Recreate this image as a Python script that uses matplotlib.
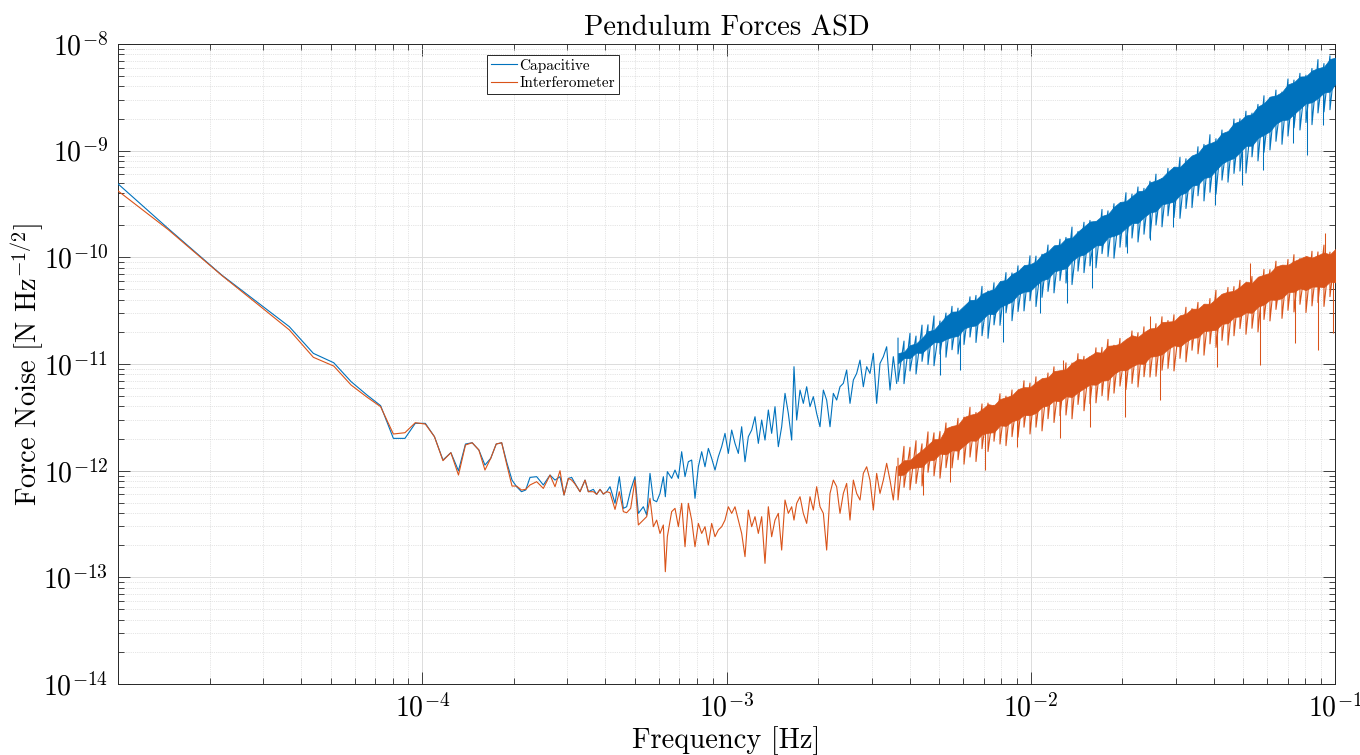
import numpy as np
import matplotlib
matplotlib.use("Agg")
import matplotlib.pyplot as plt
from matplotlib.ticker import FixedLocator, FixedFormatter, LogLocator, NullFormatter

plt.rcParams["font.family"] = "serif"
plt.rcParams["font.serif"] = ["cmr10"]
plt.rcParams["mathtext.fontset"] = "cm"
plt.rcParams["axes.unicode_minus"] = False
plt.rcParams["axes.formatter.use_mathtext"] = True

# All values are log10: frequency in Hz, force ASD in N/sqrt(Hz)

# first FFT bins (df ~ 7.3 uHz)
bin_logf = [-5.137, -4.836, -4.659, -4.534, -4.437, -4.358, -4.291, -4.234, -4.182, -4.137,
            -4.095, -4.057, -4.023, -3.990, -3.960, -3.932, -3.906, -3.881, -3.858, -3.836,
            -3.814, -3.794, -3.775, -3.757, -3.739, -3.722, -3.705, -3.690, -3.674, -3.660]
cap_bins = [-8.963, -9.728, -10.166, -10.438, -10.650, -10.900, -10.988, -11.165, -11.290, -11.390,
            -11.697, -11.697, -11.556, -11.556, -11.681, -11.900, -11.831, -12.000, -11.750, -11.738,
            -11.806, -11.947, -11.884, -11.750, -11.738, -11.925, -12.088, -12.150, -12.197, -12.181]
ifo_bins = [-9.076, -9.738, -10.170, -10.456, -10.680, -10.937, -11.019, -11.197, -11.310, -11.400,
            -11.656, -11.644, -11.550, -11.563, -11.681, -11.906, -11.831, -12.041, -11.759, -11.738,
            -11.806, -11.994, -11.884, -11.750, -11.738, -11.947, -12.144, -12.144, -12.181, -12.175]

# mid band, where the two sensors split apart
mid_logf = [-3.6459, -3.6240, -3.6021, -3.5801, -3.5637, -3.5473, -3.5341, -3.5199, -3.5089, -3.4980,
            -3.4815, -3.4651, -3.4542, -3.4377, -3.4268, -3.4158, -3.4048, -3.3939, -3.3829, -3.3665,
            -3.3523, -3.3391, -3.3282, -3.3150, -3.3008, -3.2898, -3.2734, -3.2624, -3.2515, -3.2405,
            -3.2296, -3.2186, -3.2076, -3.2011, -3.1945, -3.1803, -3.1693, -3.1583, -3.1474, -3.1364,
            -3.1255, -3.1145, -3.1036, -3.0926, -3.0816, -3.0707, -3.0597, -3.0488, -3.0378, -3.0269,
            -3.0159, -3.0050, -2.9940, -2.9830, -2.9721, -2.9611, -2.9502, -2.9392, -2.9283, -2.9173,
            -2.9063, -2.8954, -2.8844, -2.8735, -2.8625, -2.8516, -2.8406, -2.8297, -2.8187, -2.8077,
            -2.7968, -2.7858, -2.7782, -2.7694, -2.7584, -2.7475, -2.7365, -2.7256, -2.7146, -2.7037,
            -2.6927, -2.6817, -2.6708, -2.6598, -2.6489, -2.6379, -2.6270, -2.6160, -2.6051, -2.5941,
            -2.5831, -2.5722, -2.5612, -2.5503, -2.5393, -2.5284, -2.5174, -2.5065, -2.4955, -2.4845,
            -2.4736, -2.4626, -2.4517, -2.4407]
cap_mid = [-12.063, -12.056, -12.134, -12.041, -12.088, -12.056, -12.228, -12.072, -12.063, -12.119,
           -12.197, -12.088, -12.197, -12.175, -12.222, -12.175, -12.219, -12.197, -12.150, -12.306,
           -12.056, -12.353, -12.338, -12.181, -12.056, -12.400, -12.338, -12.416, -12.025, -12.275,
           -12.291, -12.213, -12.056, -12.244, -12.009, -12.072, -11.994, -12.072, -11.822, -12.056,
           -11.916, -11.900, -12.259, -11.963, -11.822, -11.963, -11.791, -11.884, -11.994, -11.869,
           -11.775, -11.650, -11.838, -11.619, -11.744, -11.838, -11.588, -11.916, -11.681, -11.619,
           -11.494, -11.744, -11.525, -11.713, -11.431, -11.650, -11.400, -11.775, -11.588, -11.275,
           -11.463, -11.713, -11.025, -11.525, -11.244, -11.369, -11.213, -11.400, -11.306, -11.463,
           -11.588, -11.244, -11.338, -11.588, -11.275, -11.338, -11.213, -11.181, -11.056, -11.369,
           -11.150, -11.088, -10.963, -11.213, -11.025, -11.088, -10.900, -11.369, -10.994, -10.931,
           -10.838, -11.244, -10.931, -11.181]
ifo_mid = [-12.134, -12.103, -12.166, -12.041, -12.150, -12.000, -12.228, -12.072, -12.088, -12.125,
           -12.197, -12.088, -12.197, -12.197, -12.222, -12.175, -12.219, -12.197, -12.206, -12.363,
           -12.197, -12.384, -12.394, -12.353, -12.088, -12.509, -12.463, -12.431, -12.259, -12.525,
           -12.463, -12.588, -12.509, -12.947, -12.619, -12.384, -12.353, -12.525, -12.306, -12.713,
           -12.306, -12.463, -12.713, -12.494, -12.588, -12.525, -12.697, -12.494, -12.619, -12.556,
           -12.525, -12.463, -12.338, -12.400, -12.338, -12.463, -12.588, -12.806, -12.369, -12.525,
           -12.431, -12.588, -12.431, -12.869, -12.338, -12.619, -12.463, -12.400, -12.744, -12.275,
           -12.400, -12.338, -12.463, -12.306, -12.244, -12.400, -12.494, -12.244, -12.369, -12.150,
           -12.338, -12.400, -12.744, -12.213, -12.088, -12.150, -12.400, -12.213, -12.119, -12.463,
           -12.088, -12.213, -12.275, -12.025, -11.963, -12.088, -12.369, -12.025, -12.213, -12.088,
           -11.931, -12.088, -12.275, -11.963]

# high band: dense noise floor, solid core plus the reach of the fast wiggles
band_logf = [-2.4363, -2.4166, -2.3969, -2.3771, -2.3574, -2.3377, -2.3180, -2.2983, -2.2786, -2.2588,
             -2.2391, -2.2194, -2.1997, -2.1800, -2.1602, -2.1405, -2.1208, -2.1011, -2.0814, -2.0616,
             -2.0419, -2.0222, -2.0025, -1.9828, -1.9630, -1.9433, -1.9236, -1.9039, -1.8842, -1.8644,
             -1.8447, -1.8250, -1.8053, -1.7856, -1.7658, -1.7461, -1.7264, -1.7067, -1.6870, -1.6672,
             -1.6475, -1.6278, -1.6081, -1.5884, -1.5686, -1.5489, -1.5292, -1.5095, -1.4898, -1.4700,
             -1.4503, -1.4306, -1.4109, -1.3912, -1.3714, -1.3517, -1.3320, -1.3123, -1.2926, -1.2728,
             -1.2531, -1.2334, -1.2137, -1.1940, -1.1742, -1.1545, -1.1348, -1.1151, -1.0954, -1.0756,
             -1.0559, -1.0362, -1.0165, -0.9968]
cap_core_hi = [-10.898, -10.885, -10.822, -10.808, -10.755, -10.692, -10.679, -10.616, -10.552, -10.509,
               -10.506, -10.453, -10.400, -10.397, -10.342, -10.315, -10.298, -10.221, -10.213, -10.156,
               -10.129, -10.072, -10.065, -10.038, -9.971, -9.944, -9.887, -9.880, -9.823, -9.816,
               -9.758, -9.711, -9.664, -9.658, -9.611, -9.594, -9.527, -9.480, -9.474, -9.427,
               -9.380, -9.373, -9.296, -9.280, -9.253, -9.196, -9.149, -9.152, -9.096, -9.044,
               -9.023, -8.951, -8.930, -8.908, -8.836, -8.815, -8.743, -8.721, -8.670, -8.658,
               -8.586, -8.555, -8.493, -8.482, -8.450, -8.378, -8.358, -8.305, -8.302, -8.249,
               -8.226, -8.213, -8.140, -8.127]
cap_core_lo = [-10.994, -10.944, -10.945, -10.894, -10.895, -10.845, -10.796, -10.796, -10.766, -10.746,
               -10.736, -10.667, -10.647, -10.638, -10.585, -10.529, -10.533, -10.467, -10.440, -10.414,
               -10.348, -10.322, -10.317, -10.261, -10.215, -10.199, -10.133, -10.117, -10.101, -10.035,
               -9.989, -9.974, -9.931, -9.888, -9.885, -9.812, -9.798, -9.775, -9.723, -9.679,
               -9.676, -9.623, -9.580, -9.567, -9.504, -9.491, -9.477, -9.414, -9.392, -9.329,
               -9.318, -9.256, -9.245, -9.183, -9.121, -9.090, -9.068, -9.016, -8.955, -8.953,
               -8.881, -8.850, -8.818, -8.747, -8.714, -8.708, -8.656, -8.606, -8.556, -8.546,
               -8.506, -8.456, -8.446, -8.366]
cap_up = [-10.758, -10.785, -10.712, -10.738, -10.635, -10.632, -10.549, -10.596, -10.522, -10.459,
          -10.476, -10.493, -10.370, -10.357, -10.272, -10.315, -10.238, -10.261, -10.143, -10.146,
          -10.079, -10.102, -9.985, -9.988, -9.971, -9.884, -9.937, -9.830, -9.813, -9.716,
          -9.758, -9.671, -9.654, -9.668, -9.551, -9.564, -9.497, -9.510, -9.394, -9.407,
          -9.340, -9.353, -9.286, -9.220, -9.263, -9.166, -9.159, -9.062, -9.076, -9.064,
          -8.963, -8.941, -8.850, -8.888, -8.806, -8.835, -8.703, -8.701, -8.630, -8.648,
          -8.566, -8.485, -8.503, -8.432, -8.450, -8.328, -8.338, -8.275, -8.292, -8.229,
          -8.146, -8.183, -8.110, -8.097]
cap_dn = [-11.164, -11.184, -11.065, -11.094, -10.975, -11.005, -11.016, -10.906, -10.936, -10.866,
          -10.906, -10.817, -10.747, -10.798, -10.735, -10.759, -10.633, -10.637, -10.520, -10.594,
          -10.508, -10.502, -10.407, -10.461, -10.375, -10.319, -10.333, -10.217, -10.241, -10.255,
          -10.129, -10.144, -10.080, -10.098, -9.965, -9.992, -10.008, -9.905, -9.903, -9.819,
          -9.856, -9.783, -9.820, -9.697, -9.714, -9.611, -9.627, -9.634, -9.542, -9.534,
          -9.423, -9.471, -9.390, -9.408, -9.276, -9.295, -9.213, -9.191, -9.210, -9.058,
          -9.096, -9.015, -8.993, -8.912, -8.940, -8.863, -8.786, -8.806, -8.736, -8.756,
          -8.646, -8.636, -8.616, -8.546]
ifo_core_hi = [-11.954, -11.902, -11.901, -11.849, -11.808, -11.756, -11.705, -11.703, -11.602, -11.580,
               -11.569, -11.497, -11.476, -11.464, -11.424, -11.376, -11.387, -11.329, -11.311, -11.293,
               -11.235, -11.217, -11.218, -11.170, -11.132, -11.124, -11.066, -11.058, -11.049, -10.991,
               -10.953, -10.958, -10.923, -10.888, -10.894, -10.829, -10.824, -10.810, -10.765, -10.730,
               -10.746, -10.701, -10.666, -10.662, -10.607, -10.602, -10.598, -10.543, -10.528, -10.481,
               -10.482, -10.434, -10.436, -10.388, -10.340, -10.322, -10.314, -10.275, -10.227, -10.239,
               -10.181, -10.163, -10.145, -10.086, -10.068, -10.070, -10.035, -10.011, -9.987, -10.003,
               -9.979, -9.955, -9.971, -9.917]
ifo_core_lo = [-12.044, -12.036, -11.979, -11.970, -11.963, -11.905, -11.898, -11.840, -11.847, -11.809,
               -11.812, -11.764, -11.717, -11.719, -11.659, -11.645, -11.639, -11.575, -11.580, -11.536,
               -11.521, -11.477, -11.481, -11.457, -11.402, -11.388, -11.343, -11.349, -11.303, -11.309,
               -11.264, -11.228, -11.191, -11.194, -11.157, -11.150, -11.093, -11.057, -11.059, -11.022,
               -10.996, -10.999, -10.932, -10.925, -10.908, -10.860, -10.825, -10.837, -10.790, -10.756,
               -10.749, -10.692, -10.686, -10.679, -10.623, -10.617, -10.560, -10.553, -10.516, -10.520,
               -10.463, -10.442, -10.396, -10.398, -10.382, -10.326, -10.322, -10.290, -10.307, -10.275,
               -10.273, -10.280, -10.228, -10.235]
ifo_up = [-11.884, -11.772, -11.781, -11.719, -11.748, -11.636, -11.645, -11.633, -11.552, -11.610,
          -11.509, -11.497, -11.406, -11.454, -11.374, -11.366, -11.387, -11.279, -11.301, -11.243,
          -11.265, -11.157, -11.178, -11.120, -11.142, -11.084, -11.026, -11.078, -10.989, -10.991,
          -10.903, -10.928, -10.933, -10.848, -10.844, -10.769, -10.824, -10.760, -10.805, -10.690,
          -10.706, -10.651, -10.686, -10.622, -10.557, -10.592, -10.538, -10.573, -10.468, -10.481,
          -10.422, -10.444, -10.386, -10.308, -10.350, -10.282, -10.274, -10.215, -10.247, -10.179,
          -10.211, -10.113, -10.115, -10.036, -10.088, -10.020, -9.975, -10.011, -10.047, -9.943,
          -9.949, -9.885, -9.951, -9.897]
ifo_dn = [-12.274, -12.156, -12.179, -12.120, -12.143, -12.015, -12.048, -12.070, -11.972, -11.974,
          -11.897, -11.939, -11.872, -11.914, -11.794, -11.820, -11.724, -11.750, -11.765, -11.681,
          -11.686, -11.592, -11.656, -11.592, -11.627, -11.513, -11.548, -11.484, -11.478, -11.514,
          -11.379, -11.438, -11.371, -11.364, -11.297, -11.340, -11.273, -11.207, -11.239, -11.182,
          -11.216, -11.119, -11.122, -11.115, -11.058, -11.041, -11.065, -10.947, -10.980, -10.871,
          -10.904, -10.917, -10.811, -10.844, -10.778, -10.822, -10.735, -10.668, -10.721, -10.665,
          -10.699, -10.582, -10.596, -10.488, -10.572, -10.496, -10.512, -10.440, -10.517, -10.455,
          -10.423, -10.460, -10.368, -10.415]

# isolated outliers sticking out of the noise floor
cap_spike_f = [-2.2983, -2.2326, -2.0912, -1.9696, -1.8808, -1.7987, -1.6836, -1.6080,
               -1.5325, -1.3944, -1.3057, -1.2367, -1.1380, -1.0920, -1.0394]
cap_spike_base = [-10.70, -10.65, -10.45, -10.15, -10.00, -9.85, -9.65, -9.55,
                  -9.40, -9.15, -9.00, -8.75, -8.55, -8.45, -8.40]
cap_spike_tip = [-11.103, -11.056, -10.794, -10.522, -10.428, -10.287, -9.959, -9.837,
                 -9.716, -9.509, -9.322, -9.181, -8.928, -9.041, -8.759]
ifo_spike_f = [-2.3541, -2.2654, -2.1504, -2.0452, -1.9039, -1.8940, -1.8053, -1.6902, -1.6080,
               -1.5752, -1.3878, -1.2795, -1.2466, -1.1315, -1.0559, -1.0329, -1.0066]
ifo_spike_base = [-11.95, -11.80, -11.60, -11.45, -11.25, -11.25, -11.15, -11.00, -10.90,
                  -10.80, -10.55, -10.40, -10.40, -10.25, -10.20, -10.15, -10.15]
ifo_spike_tip = [-12.228, -12.106, -11.994, -11.778, -11.694, -10.962, -11.590, -11.497, -10.550,
                 -11.337, -11.028, -10.050, -11.009, -10.803, -10.869, -9.772, -10.709]

blue = "#0072BD"
orange = "#D95319"
ink = "#262626"


def lin(v):
    return 10.0 ** np.asarray(v)


fig = plt.figure(figsize=(13.6, 7.55), dpi=100)
ax = fig.add_axes([0.0868, 0.0940, 0.8948, 0.8477])

series = [
    ("Capacitive", blue, cap_bins, cap_mid, cap_core_hi, cap_core_lo, cap_up, cap_dn,
     cap_spike_f, cap_spike_base, cap_spike_tip),
    ("Interferometer", orange, ifo_bins, ifo_mid, ifo_core_hi, ifo_core_lo, ifo_up, ifo_dn,
     ifo_spike_f, ifo_spike_base, ifo_spike_tip),
]
f_line = lin(bin_logf + mid_logf)
f_band = lin(band_logf)
for name, col, vb, vm, chi, clo, up, dn, sf, sb, st in series:
    ax.plot(f_line, lin(vb + vm), color=col, lw=0.8, label=name, zorder=3)
    ax.fill_between(f_band, lin(clo), lin(chi), color=col, lw=0.5, zorder=3)
    # fast wiggles: one up/down swing per band sample
    wig_f = np.repeat(f_band, 2)
    wig_v = np.column_stack([lin(up), lin(dn)]).ravel()
    ax.plot(wig_f, wig_v, color=col, lw=0.8, zorder=3)
    ax.vlines(lin(sf), lin(sb), lin(st), color=col, lw=0.75, zorder=3)

ax.set_xscale("log")
ax.set_yscale("log")
ax.set_xlim(1e-5, 1e-1)
ax.set_ylim(1e-14, 1e-8)

xt = [1e-4, 1e-3, 1e-2, 1e-1]
ax.xaxis.set_major_locator(FixedLocator(xt))
ax.xaxis.set_major_formatter(FixedFormatter([r"$10^{-4}$", r"$10^{-3}$", r"$10^{-2}$", r"$10^{-1}$"]))
ax.xaxis.set_minor_locator(LogLocator(base=10, subs=np.arange(2, 10), numticks=20))
ax.xaxis.set_minor_formatter(NullFormatter())
yt = [1e-14, 1e-13, 1e-12, 1e-11, 1e-10, 1e-9, 1e-8]
ax.yaxis.set_major_locator(FixedLocator(yt))
ax.yaxis.set_major_formatter(FixedFormatter([r"$10^{-%d}$" % e for e in range(14, 7, -1)]))
ax.yaxis.set_minor_locator(LogLocator(base=10, subs=np.arange(2, 10), numticks=20))
ax.yaxis.set_minor_formatter(NullFormatter())

ax.tick_params(which="both", direction="in", top=True, right=True, color=ink, width=0.6,
               labelsize=20, labelcolor="black")
ax.tick_params(which="major", length=8.5, pad=7)
ax.tick_params(which="minor", length=4.5)
for sp in ax.spines.values():
    sp.set_color(ink)
    sp.set_linewidth(0.7)

ax.set_axisbelow(True)
ax.grid(which="major", color="#dcdcdc", lw=0.7, ls="-")
ax.grid(which="minor", color="#cccccc", lw=0.5, ls=":")

ax.set_title("Pendulum Forces ASD", fontsize=20.5, pad=6)
ax.set_xlabel("Frequency [Hz]", fontsize=20.5)
ax.set_ylabel(r"Force Noise [N Hz$^{-1/2}$]", fontsize=20.5)
ax.xaxis.set_label_coords(0.5, -0.066)
ax.yaxis.set_label_coords(-0.059, 0.5)

leg = ax.legend(loc="upper left", bbox_to_anchor=(0.303, 0.983), borderaxespad=0, fontsize=11,
                fancybox=False, edgecolor=ink, framealpha=1, handlelength=1.75,
                handletextpad=0.15, borderpad=0.25, labelspacing=0.25)
leg.get_frame().set_linewidth(0.7)

fig.savefig("out.png", dpi=100)
